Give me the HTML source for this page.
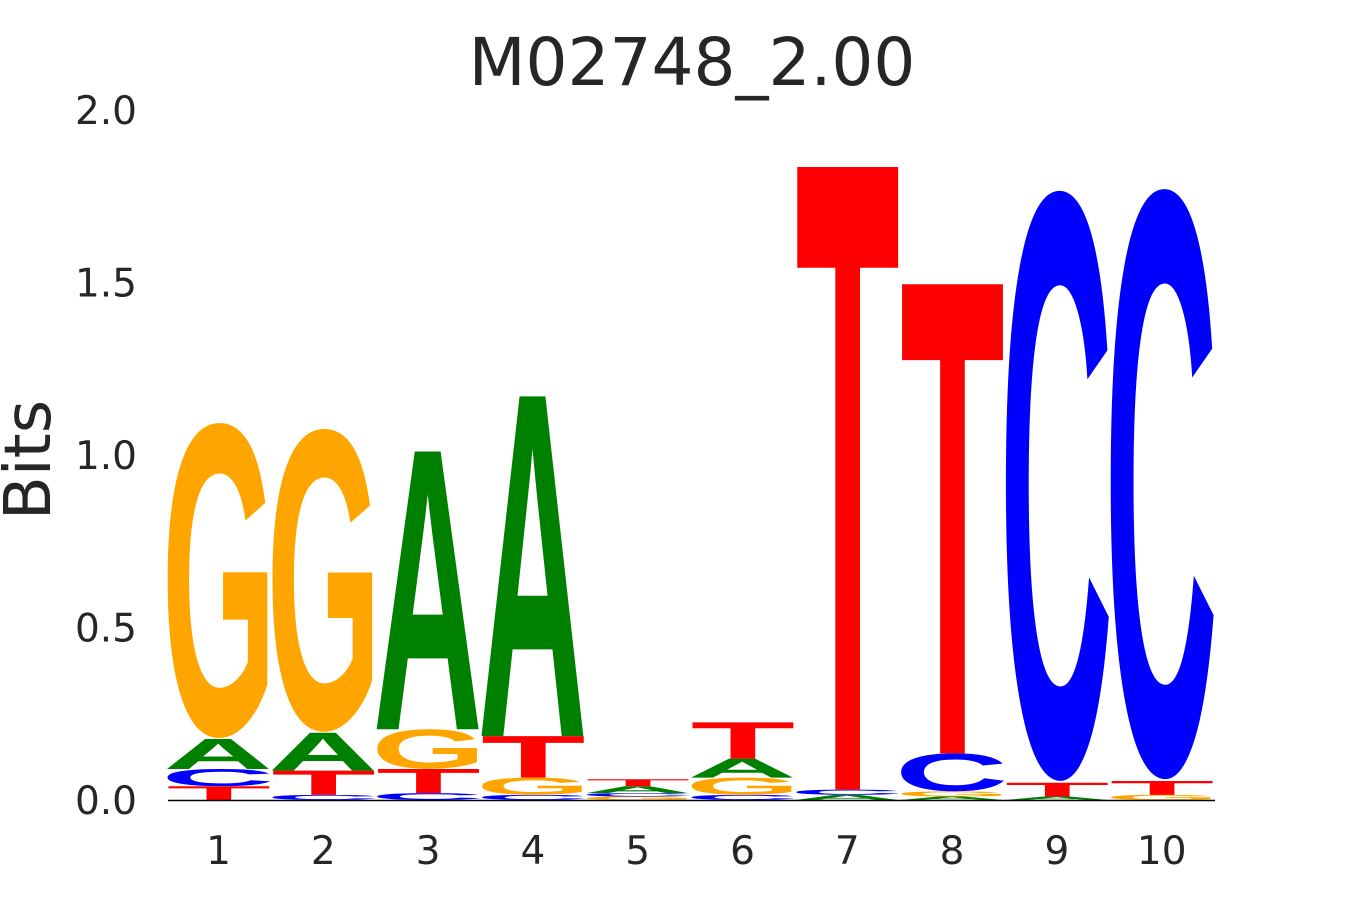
<!DOCTYPE html>
<html><head><meta charset="utf-8"><style>
html,body{margin:0;background:#fff;overflow:hidden;width:1350px;height:900px}
svg{display:block;overflow:hidden}
text{font-family:"DejaVu Sans","Liberation Sans",sans-serif}
text.lt{font-family:"Liberation Sans","DejaVu Sans",sans-serif}
</style></head><body>
<svg id="chart" width="1350" height="900" viewBox="0 0 1350 900" xmlns="http://www.w3.org/2000/svg">
<text x="692" y="85" font-size="66" text-anchor="middle" fill="#262626">M02748_2.00</text>
<text transform="translate(50,460) rotate(-90)" font-size="64" text-anchor="middle" fill="#262626">Bits</text>
<g id="yticks"></g><g id="xticks"></g><g id="letters"></g>
<line x1="168" y1="800.5" x2="1215" y2="800.5" stroke="#000" stroke-width="1.5"/>
</svg>
<script>
const positions = ['1','2','3','4','5','6','7','8','9','10'];
const yTickValues = [0, 0.5, 1.0, 1.5, 2.0];
const yTickLabels = ['0.0','0.5','1.0','1.5','2.0'];
// letters stacked bottom-up per position, with heights in bits
const colLetters = [
 ['T','C','A','G'],
 ['C','T','A','G'],
 ['C','T','G','A'],
 ['C','G','T','A'],
 ['G','C','A','T'],
 ['C','G','A','T'],
 ['A','C','T'],
 ['A','G','C','T'],
 ['A','T','C'],
 ['G','T','C']
];
const colHeights = [
 [0.04,0.05,0.087,0.915],
 [0.015,0.07,0.11,0.88],
 [0.02,0.07,0.115,0.805],
 [0.015,0.05,0.12,0.985],
 [0.01,0.01,0.02,0.02],
 [0.015,0.05,0.055,0.105],
 [0.015,0.015,1.805],
 [0.01,0.015,0.11,1.36],
 [0.01,0.04,1.715],
 [0.015,0.04,1.715]
];
const colors = {A:'#008000',C:'#0000ff',G:'#ffa500',T:'#ff0000'};
const NS='http://www.w3.org/2000/svg';
const yScale = v => 800 - v*345;
const xLeft = i => 168 + i*104.8;
const colW = 101;
const yt=document.getElementById('yticks');
yTickValues.forEach((v,i)=>{
  const t=document.createElementNS(NS,'text');
  
  
  t.setAttribute('x',137);t.setAttribute('y',yScale(v)+14);
  t.setAttribute('font-size','39');t.setAttribute('text-anchor','end');t.setAttribute('fill','#262626');
  t.textContent=yTickLabels[i];yt.appendChild(t);
});
const xt=document.getElementById('xticks');
positions.forEach((p,i)=>{
  const t=document.createElementNS(NS,'text');
  
  
  t.setAttribute('x',xLeft(i)+colW/2);t.setAttribute('y',864);
  t.setAttribute('font-size','39');t.setAttribute('text-anchor','middle');t.setAttribute('fill','#262626');
  t.textContent=p;xt.appendChild(t);
});
const lg=document.getElementById('letters');
const inkW={A:66.3,C:64,G:63.3,T:69.5};
const inkL={A:3.1,C:4.4,G:4,T:1};
colLetters.forEach((letters,i)=>{
  let cum=0;
  letters.forEach((L,j)=>{
    const h=colHeights[i][j];
    const yb=yScale(cum); const hp=h*345;
    cum+=h;
    const t=document.createElementNS(NS,'text');
    
    
    t.setAttribute('class','lt');
    t.setAttribute('x',0);t.setAttribute('y',0);
    t.setAttribute('font-size','100');t.setAttribute('font-weight','bold');
    t.setAttribute('textLength','72');t.setAttribute('lengthAdjust','spacingAndGlyphs');
    t.setAttribute('fill',colors[L]);
    const ch=(L==='C'||L==='G')?71:68.8;
    const off=(L==='C'||L==='G')?1.2:0;
    const sx=colW/inkW[L];
    t.setAttribute('transform','translate('+(xLeft(i)-inkL[L]*sx)+','+(yb-off*hp/ch)+') scale('+sx+','+(hp/ch)+')');
    t.textContent=L;lg.appendChild(t);
  });
});
</script>
</body></html>
